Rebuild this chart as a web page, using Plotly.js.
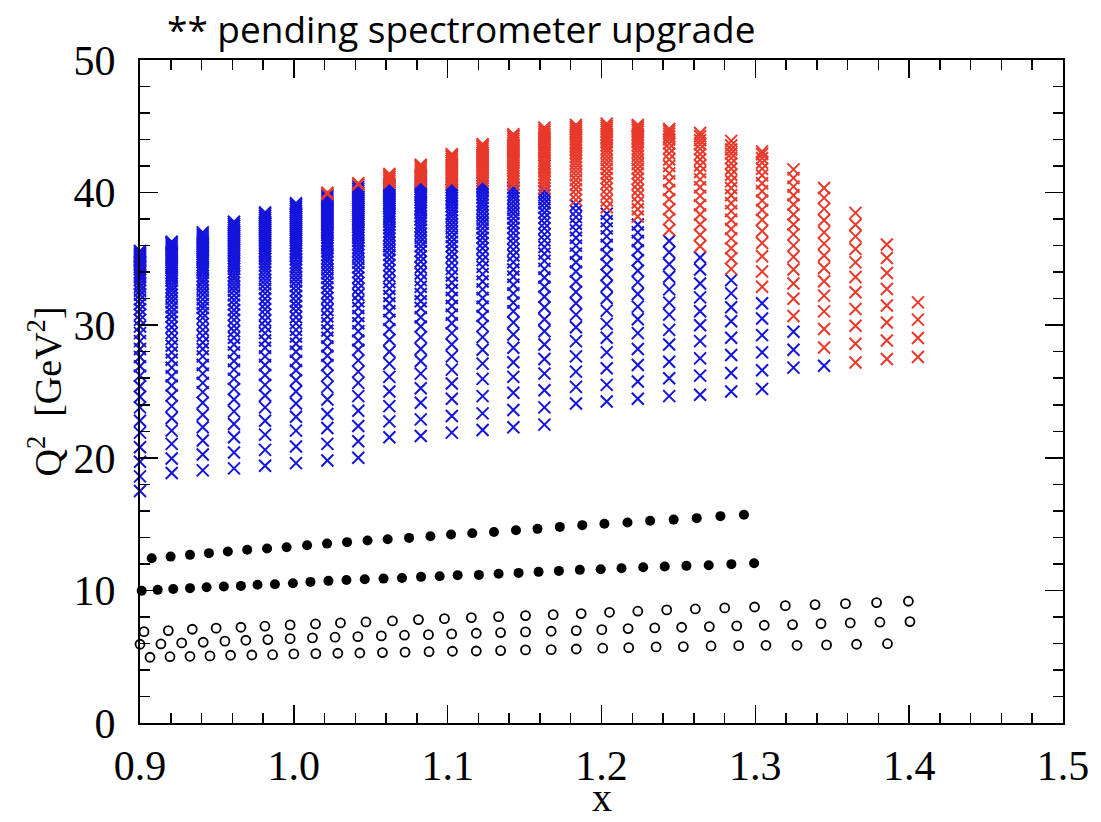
<!DOCTYPE html>
<html>
<head>
<meta charset="utf-8">
<script src="https://cdn.plot.ly/plotly-3.0.1.min.js"></script>
<style>html,body{margin:0;padding:0;background:#fff;}#chart{width:1101px;height:822px;}</style>
</head>
<body>
<div id="chart"></div>
<script>
// ---------- DATA ----------
// Kinematic columns (x values) of the 22 GeV projection points
const colX = [0.900,0.9206,0.9408,0.9611,0.9813,1.0014,1.0218,1.0419,1.0621,1.0825,1.1027,1.1227,1.1427,1.1629,1.1834,1.2034,1.2236,1.2440,1.2641,1.2843,1.3044,1.3248,1.3447,1.3651,1.3855,1.4057];

// Q^2 values of each column (GeV^2)
const colQ2 = [
 [17.5,18.6,19.7,20.8,21.9,22.8,23.8,24.6,25.4,26.2,26.9,27.6,28.2,28.8,29.4,29.9,30.4,30.8,31.2,31.6,31.95,32.3,32.6,32.9,33.15,33.4,33.6,33.8,34.0,34.2,34.35,34.5,34.65,34.8,34.9,35.0,35.1,35.2,35.3,35.4,35.5,35.6],
 [18.85,19.95,21.05,22.05,23.0,23.9,24.7,25.45,26.15,26.8,27.4,27.95,28.45,28.95,29.4,29.85,30.25,30.65,31.0,31.35,31.7,32.0,32.3,32.6,32.85,33.1,33.35,33.55,33.75,33.95,34.15,34.3,34.45,34.6,34.75,34.9,35.05,35.2,35.35,35.5,35.65,35.8,35.95,36.1,36.2,36.3],
 [19.05,20.25,21.3,22.3,23.25,24.15,24.95,25.65,26.35,27.0,27.65,28.2,28.7,29.2,29.65,30.1,30.55,30.9,31.3,31.6,31.95,32.3,32.6,32.9,33.2,33.45,33.7,33.95,34.15,34.35,34.55,34.75,34.9,35.05,35.2,35.35,35.5,35.65,35.8,35.95,36.1,36.25,36.4,36.55,36.7,36.85,37.0],
 [19.2,20.4,21.55,22.55,23.5,24.4,25.2,25.95,26.65,27.3,27.95,28.55,29.05,29.55,29.95,30.4,30.8,31.15,31.55,31.9,32.25,32.6,32.9,33.2,33.5,33.75,34.0,34.25,34.45,34.65,34.85,35.05,35.25,35.4,35.55,35.7,35.85,36.0,36.15,36.3,36.45,36.6,36.75,36.9,37.05,37.2,37.35,37.5,37.65,37.8],
 [19.4,20.6,21.75,22.8,23.8,24.7,25.5,26.25,27.0,27.65,28.3,28.85,29.4,29.9,30.35,30.8,31.2,31.6,32.0,32.4,32.75,33.1,33.4,33.7,34.0,34.25,34.5,34.75,35.0,35.2,35.4,35.6,35.8,36.0,36.15,36.3,36.45,36.6,36.75,36.9,37.05,37.2,37.35,37.5,37.65,37.8,37.95,38.1,38.25,38.4,38.5],
 [19.6,20.85,22.05,23.1,24.1,25.0,25.85,26.6,27.3,28.0,28.6,29.15,29.65,30.15,30.6,31.05,31.45,31.8,32.2,32.6,32.95,33.3,33.6,33.9,34.2,34.45,34.7,34.95,35.2,35.4,35.6,35.8,36.0,36.2,36.4,36.55,36.7,36.85,37.0,37.15,37.3,37.45,37.6,37.75,37.9,38.05,38.2,38.35,38.5,38.65,38.8,38.95,39.1,39.2],
 [19.8,21.05,22.25,23.3,24.4,25.35,26.2,27.0,27.7,28.4,29.05,29.6,30.15,30.65,31.15,31.6,32.05,32.45,32.85,33.2,33.55,33.9,34.2,34.5,34.8,35.05,35.3,35.55,35.8,36.0,36.2,36.4,36.6,36.8,36.95,37.1,37.25,37.4,37.55,37.7,37.85,38.0,38.15,38.3,38.45,38.6,38.75,38.9,39.05,39.2,39.35,39.5,39.65,39.8,39.9,40.0],
 [20.0,21.25,22.4,23.55,24.65,25.65,26.5,27.35,28.15,28.85,29.55,30.15,30.7,31.3,31.8,32.3,32.75,33.2,33.6,34.0,34.35,34.7,35.0,35.3,35.6,35.85,36.1,36.35,36.6,36.8,37.0,37.2,37.4,37.6,37.75,37.9,38.05,38.2,38.35,38.5,38.65,38.8,38.95,39.1,39.25,39.4,39.55,39.7,39.85,40.0,40.15,40.3,40.45,40.6,40.7],
 [21.55,22.75,23.9,25.0,26.1,27.1,28.0,28.9,29.7,30.4,31.05,31.65,32.2,32.75,33.25,33.7,34.15,34.55,34.95,35.3,35.65,35.95,36.25,36.55,36.8,37.05,37.3,37.55,37.8,38.0,38.2,38.4,38.6,38.8,38.95,39.1,39.25,39.4,39.55,39.7,39.85,40.0,40.15,40.3,40.45,40.6,40.75,40.9,41.05,41.2,41.3,41.4],
 [21.65,22.9,24.15,25.25,26.35,27.3,28.2,29.1,29.9,30.6,31.3,31.8,32.35,32.9,33.4,33.9,34.35,34.8,35.2,35.6,35.95,36.3,36.6,36.9,37.2,37.45,37.7,37.95,38.2,38.45,38.65,38.85,39.05,39.25,39.45,39.65,39.8,39.95,40.1,40.25,40.4,40.55,40.7,40.85,41.0,41.15,41.3,41.45,41.6,41.75,41.9,42.0,42.1],
 [21.9,23.15,24.45,25.6,26.65,27.65,28.55,29.4,30.15,30.8,31.45,32.05,32.65,33.2,33.75,34.25,34.7,35.15,35.55,35.95,36.3,36.65,37.0,37.3,37.6,37.9,38.2,38.45,38.7,38.95,39.2,39.4,39.6,39.8,40.0,40.2,40.4,40.6,40.75,40.9,41.05,41.2,41.35,41.5,41.65,41.8,41.95,42.1,42.25,42.4,42.55,42.7,42.8,42.9],
 [22.1,23.35,24.65,25.95,27.1,28.15,29.1,29.95,30.7,31.4,32.05,32.7,33.3,33.85,34.4,34.9,35.35,35.8,36.2,36.6,36.95,37.3,37.65,37.95,38.25,38.55,38.85,39.1,39.35,39.6,39.85,40.1,40.3,40.5,40.7,40.9,41.1,41.3,41.5,41.65,41.8,41.95,42.1,42.25,42.4,42.55,42.7,42.85,43.0,43.15,43.3,43.45,43.55,43.65],
 [22.3,23.6,24.9,26.1,27.2,28.3,29.3,30.2,31.05,31.7,32.4,33.05,33.65,34.2,34.75,35.25,35.7,36.15,36.55,36.95,37.35,37.7,38.05,38.4,38.7,39.0,39.3,39.6,39.85,40.1,40.35,40.6,40.85,41.05,41.25,41.45,41.65,41.85,42.05,42.25,42.4,42.55,42.7,42.85,43.0,43.15,43.3,43.45,43.6,43.75,43.9,44.05,44.2,44.3,44.4],
 [22.5,23.8,25.1,26.35,27.45,28.55,29.55,30.45,31.35,32.15,32.9,33.6,34.25,34.85,35.4,35.9,36.4,36.85,37.3,37.7,38.1,38.5,38.85,39.2,39.5,39.8,40.1,40.35,40.6,40.85,41.1,41.35,41.6,41.8,42.0,42.2,42.4,42.6,42.8,42.95,43.1,43.25,43.4,43.55,43.7,43.85,44.0,44.15,44.3,44.45,44.6,44.75,44.9],
 [24.1,25.35,26.5,27.65,28.8,29.85,30.8,31.65,32.5,33.3,34.05,34.75,35.4,36.0,36.6,37.15,37.65,38.15,38.6,39.05,39.45,39.85,40.25,40.6,40.95,41.3,41.6,41.9,42.2,42.45,42.7,42.95,43.2,43.4,43.6,43.8,44.0,44.2,44.35,44.5,44.65,44.8,44.95,45.1],
 [24.25,25.5,26.75,27.95,29.05,30.1,31.1,32.05,32.95,33.8,34.6,35.35,36.05,36.7,37.3,37.85,38.4,38.9,39.4,39.85,40.3,40.7,41.1,41.45,41.8,42.15,42.45,42.75,43.05,43.3,43.55,43.8,44.0,44.2,44.4,44.6,44.75,44.9,45.05,45.2],
 [24.45,25.75,27.0,28.2,29.4,30.45,31.4,32.35,33.25,34.1,34.9,35.65,36.35,37.0,37.6,38.2,38.75,39.25,39.75,40.2,40.65,41.05,41.45,41.8,42.15,42.45,42.75,43.05,43.3,43.55,43.8,44.0,44.2,44.4,44.6,44.75,44.9,45.0,45.1],
 [24.65,26.0,27.25,28.55,29.65,30.8,31.7,32.7,33.65,34.6,35.5,36.35,37.2,38.0,38.75,39.5,40.2,40.85,41.45,42.0,42.5,42.95,43.35,43.7,44.0,44.25,44.45,44.65,44.8],
 [24.75,26.2,27.5,28.8,30.0,31.05,32.1,33.15,34.2,35.1,35.95,36.8,37.6,38.35,39.05,39.75,40.4,41.0,41.55,42.05,42.5,42.9,43.3,43.65,43.95,44.25,44.5],
 [25.0,26.4,27.75,29.05,30.3,31.35,32.4,33.4,34.25,35.05,35.8,36.55,37.25,37.95,38.6,39.2,39.8,40.35,40.85,41.35,41.8,42.2,42.6,42.95,43.25,43.55,43.9],
 [25.2,26.6,27.95,29.25,30.5,31.65,32.9,34.05,35.2,36.2,37.1,37.95,38.7,39.4,40.1,40.7,41.3,41.8,42.25,42.6,42.9,43.1],
 [26.8,28.15,29.5,30.7,32.0,33.15,34.2,35.15,36.0,36.85,37.6,38.35,39.1,39.8,40.45,41.1,41.75],
 [26.94,28.32,29.71,31.04,32.23,33.31,34.32,35.25,36.15,37.0,37.91,38.77,39.6,40.35],
 [27.19,28.6,29.96,31.22,32.48,33.64,34.74,35.75,36.7,37.58,38.47],
 [27.45,28.85,30.21,31.49,32.73,33.94,35.07,36.08],
 [27.6,29.03,30.42,31.72]
];

// Q^2 above which a column point needs the spectrometer upgrade (red); 99 = none
const upgradeAbove = [99,99,99,99,99,99,39.85,40.45,40.7,40.8,40.7,40.75,40.5,40.2,39.3,38.45,37.9,36.4,35.25,34.0,32.2,30.1,27.5,0,0,0];

// Filled circles, upper row
const filledUpperX  = [0.9076,0.9199,0.9325,0.9448,0.9571,0.9697,0.9826,0.9953,1.0086,1.0216,1.0346,1.0479,1.0610,1.0749,1.0888,1.1022,1.1160,1.1301,1.1444,1.1584,1.1729,1.1875,1.2019,1.2169,1.2316,1.2469,1.2619,1.2773,1.2926];
const filledUpperQ2 = [12.43,12.55,12.68,12.81,12.93,13.06,13.16,13.26,13.41,13.53,13.64,13.76,13.86,13.96,14.09,14.21,14.31,14.41,14.54,14.64,14.79,14.92,15.02,15.12,15.25,15.34,15.45,15.60,15.70];
// Filled circles, lower row
const filledLowerX  = [0.9011,0.9115,0.9216,0.9325,0.9433,0.9545,0.9656,0.9764,0.9877,0.9994,1.0108,1.0225,1.0342,1.0461,1.0583,1.0703,1.0827,1.0948,1.1065,1.1203,1.1331,1.1461,1.1591,1.1723,1.1859,1.1995,1.2130,1.2271,1.2411,1.2552,1.2697,1.2844,1.2992];
const filledLowerQ2 = [9.98,10.04,10.11,10.17,10.24,10.29,10.34,10.42,10.47,10.54,10.64,10.72,10.79,10.84,10.89,10.94,11.02,11.07,11.15,11.17,11.25,11.32,11.40,11.47,11.55,11.60,11.67,11.75,11.80,11.85,11.90,11.98,12.05];

// Open circles: three rows
const openTopX  = [0.9026,0.9184,0.9340,0.9495,0.9656,0.9812,0.9976,1.0141,1.0303,1.0469,1.0641,1.0810,1.0979,1.1154,1.1331,1.1506,1.1686,1.1868,1.2052,1.2236,1.2424,1.2610,1.2801,1.2995,1.3195,1.3388,1.3586,1.3788,1.3995];
const openTopQ2 = [6.89,6.97,7.07,7.15,7.22,7.30,7.40,7.47,7.55,7.62,7.70,7.80,7.87,7.95,8.02,8.10,8.17,8.25,8.35,8.43,8.53,8.60,8.68,8.75,8.85,8.93,9.00,9.08,9.18];
const openMidX  = [0.9000,0.9136,0.9271,0.9411,0.9552,0.9688,0.9831,0.9976,1.0121,1.0268,1.0416,1.0569,1.0719,1.0875,1.1026,1.1186,1.1344,1.1506,1.1673,1.1836,1.2002,1.2173,1.2346,1.2521,1.2701,1.2879,1.3058,1.3242,1.3427,1.3617,1.3810,1.4005];
const openMidQ2 = [5.94,5.96,6.04,6.09,6.17,6.24,6.29,6.36,6.42,6.47,6.51,6.57,6.62,6.66,6.72,6.77,6.82,6.87,6.92,6.97,7.04,7.12,7.17,7.22,7.27,7.32,7.37,7.42,7.49,7.55,7.60,7.65];
const openBotX  = [0.9065,0.9195,0.9325,0.9455,0.9589,0.9727,0.9862,1.0000,1.0143,1.0286,1.0429,1.0576,1.0723,1.0879,1.1031,1.1186,1.1344,1.1506,1.1673,1.1836,1.2008,1.2177,1.2355,1.2532,1.2712,1.2892,1.3069,1.3271,1.3463,1.3658,1.3859];
const openBotQ2 = [4.96,5.00,5.03,5.06,5.11,5.13,5.15,5.21,5.23,5.26,5.28,5.31,5.34,5.38,5.41,5.43,5.46,5.51,5.53,5.58,5.64,5.68,5.74,5.76,5.81,5.83,5.86,5.86,5.89,5.94,5.98];

const titleText = '** pending spectrometer upgrade';
const xTitle = 'x';
const yTitle = 'Q<sup>2</sup>  [GeV<sup>2</sup>]';

// ---------- BUILD ----------
const blueX = [], blueY = [], redX = [], redY = [];
colX.forEach((xv, i) => {
  colQ2[i].forEach(q => {
    if (q > upgradeAbove[i]) { redX.push(xv); redY.push(q); }
    else { blueX.push(xv); blueY.push(q); }
  });
});

const BLUE = '#1414dc', RED = '#e8392b';
const xMarker = (c) => ({symbol: 'x-thin-open', size: 12, color: c, line: {color: c, width: 2}});
const openMarker = {symbol: 'circle-open', size: 9, color: '#000', line: {color: '#000', width: 1.8}};
const fullMarker = {symbol: 'circle', size: 10, color: '#000'};

const traces = [
  {x: blueX, y: blueY, mode: 'markers', type: 'scatter', marker: xMarker(BLUE), cliponaxis: false},
  {x: redX, y: redY, mode: 'markers', type: 'scatter', marker: xMarker(RED), cliponaxis: false},
  {x: filledUpperX, y: filledUpperQ2, mode: 'markers', type: 'scatter', marker: fullMarker, cliponaxis: false},
  {x: filledLowerX, y: filledLowerQ2, mode: 'markers', type: 'scatter', marker: fullMarker, cliponaxis: false},
  {x: openTopX, y: openTopQ2, mode: 'markers', type: 'scatter', marker: openMarker, cliponaxis: false},
  {x: openMidX, y: openMidQ2, mode: 'markers', type: 'scatter', marker: openMarker, cliponaxis: false},
  {x: openBotX, y: openBotQ2, mode: 'markers', type: 'scatter', marker: openMarker, cliponaxis: false}
];

const SERIF = 'Liberation Serif, serif';
const tickFont = {family: SERIF, size: 42, color: '#000'};
const axisCommon = {
  showline: true, linecolor: '#000', linewidth: 2, mirror: 'ticks',
  ticks: 'inside', ticklen: 18, tickwidth: 1.5, tickcolor: '#000',
  showgrid: false, zeroline: false, tickfont: tickFont, fixedrange: true
};

const layout = {
  width: 1101, height: 822,
  margin: {l: 140, r: 38, t: 60, b: 99},
  paper_bgcolor: '#fff', plot_bgcolor: '#fff',
  showlegend: false,
  xaxis: Object.assign({}, axisCommon, {
    range: [0.9, 1.5], dtick: 0.1, tick0: 0.9, tickformat: '.1f',
    minor: {dtick: 0.02, ticklen: 10, tickwidth: 1.5, tickcolor: '#000', ticks: 'inside'},
    ticklabelstandoff: 5
  }),
  yaxis: Object.assign({}, axisCommon, {
    range: [0, 50], dtick: 10, tick0: 0,
    minor: {dtick: 2, ticklen: 10, tickwidth: 1.5, tickcolor: '#000', ticks: 'inside'},
    ticklabelstandoff: 14,
    title: {text: yTitle, font: {family: SERIF, size: 38, color: '#000'}, standoff: 0}
  }),
  annotations: [
    {
      text: titleText, xref: 'paper', yref: 'paper', x: 0.027, y: 1.048,
      xanchor: 'left', yanchor: 'middle', showarrow: false,
      font: {family: 'Open Sans, Noto Sans, sans-serif', size: 37, color: '#000'}
    },
    {
      text: xTitle, xref: 'paper', yref: 'paper', x: 0.5, y: -0.112,
      xanchor: 'center', yanchor: 'middle', showarrow: false,
      font: {family: SERIF, size: 40, color: '#000'}
    }
  ]
};

Plotly.newPlot('chart', traces, layout, {staticPlot: true, displayModeBar: false});
</script>
</body>
</html>
